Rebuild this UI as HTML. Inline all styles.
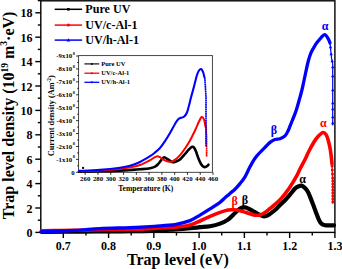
<!DOCTYPE html>
<html><head><meta charset="utf-8"><style>
html,body{margin:0;padding:0;background:#fff;}
svg{display:block;}
text{font-family:"Liberation Serif",serif;font-weight:bold;}
</style></head><body>
<svg width="342" height="269" viewBox="0 0 342 269">
<rect width="342" height="269" fill="#fff"/>
<!-- main frame -->
<rect x="40.8" y="0.8" width="294.10" height="231.60" fill="none" stroke="#000" stroke-width="1.4"/>
<g stroke="#000" stroke-width="1.4">
<line x1="63.30" y1="232.40" x2="63.30" y2="238.00"/>
<line x1="85.93" y1="232.40" x2="85.93" y2="235.60"/>
<line x1="108.57" y1="232.40" x2="108.57" y2="238.00"/>
<line x1="131.20" y1="232.40" x2="131.20" y2="235.60"/>
<line x1="153.83" y1="232.40" x2="153.83" y2="238.00"/>
<line x1="176.47" y1="232.40" x2="176.47" y2="235.60"/>
<line x1="199.10" y1="232.40" x2="199.10" y2="238.00"/>
<line x1="221.73" y1="232.40" x2="221.73" y2="235.60"/>
<line x1="244.37" y1="232.40" x2="244.37" y2="238.00"/>
<line x1="267.00" y1="232.40" x2="267.00" y2="235.60"/>
<line x1="289.64" y1="232.40" x2="289.64" y2="238.00"/>
<line x1="312.27" y1="232.40" x2="312.27" y2="235.60"/>
<line x1="334.90" y1="232.40" x2="334.90" y2="238.00"/>
<line x1="35.30" y1="232.40" x2="40.80" y2="232.40"/>
<line x1="37.80" y1="220.20" x2="40.80" y2="220.20"/>
<line x1="35.30" y1="208.00" x2="40.80" y2="208.00"/>
<line x1="37.80" y1="195.80" x2="40.80" y2="195.80"/>
<line x1="35.30" y1="183.60" x2="40.80" y2="183.60"/>
<line x1="37.80" y1="171.40" x2="40.80" y2="171.40"/>
<line x1="35.30" y1="159.20" x2="40.80" y2="159.20"/>
<line x1="37.80" y1="147.00" x2="40.80" y2="147.00"/>
<line x1="35.30" y1="134.80" x2="40.80" y2="134.80"/>
<line x1="37.80" y1="122.60" x2="40.80" y2="122.60"/>
<line x1="35.30" y1="110.40" x2="40.80" y2="110.40"/>
<line x1="37.80" y1="98.20" x2="40.80" y2="98.20"/>
<line x1="35.30" y1="86.00" x2="40.80" y2="86.00"/>
<line x1="37.80" y1="73.80" x2="40.80" y2="73.80"/>
<line x1="35.30" y1="61.60" x2="40.80" y2="61.60"/>
<line x1="37.80" y1="49.40" x2="40.80" y2="49.40"/>
<line x1="35.30" y1="37.20" x2="40.80" y2="37.20"/>
<line x1="37.80" y1="25.00" x2="40.80" y2="25.00"/>
<line x1="35.30" y1="12.80" x2="40.80" y2="12.80"/>
<line x1="37.80" y1="0.60" x2="40.80" y2="0.60"/>
</g>
<!-- main curves -->
<g fill="none" stroke-linejoin="round" stroke-linecap="round">
<path d="M41.50,231.80 C47.92,231.77 66.92,231.68 80.00,231.60 C93.08,231.52 108.33,231.40 120.00,231.30 C131.67,231.20 140.83,231.32 150.00,231.00 C159.17,230.68 168.33,229.87 175.00,229.40 C181.67,228.93 185.83,228.57 190.00,228.20 C194.17,227.83 196.67,227.53 200.00,227.20 C203.33,226.87 206.67,226.80 210.00,226.20 C213.33,225.60 217.00,224.70 220.00,223.60 C223.00,222.50 225.50,221.37 228.00,219.60 C230.50,217.83 233.00,214.83 235.00,213.00 C237.00,211.17 238.33,209.53 240.00,208.60 C241.67,207.67 243.33,207.27 245.00,207.40 C246.67,207.53 248.33,208.60 250.00,209.40 C251.67,210.20 253.33,211.27 255.00,212.20 C256.67,213.13 258.50,214.32 260.00,215.00 C261.50,215.68 262.67,216.27 264.00,216.30 C265.33,216.33 266.17,216.25 268.00,215.20 C269.83,214.15 273.00,211.70 275.00,210.00 C277.00,208.30 278.33,206.63 280.00,205.00 C281.67,203.37 283.33,201.93 285.00,200.20 C286.67,198.47 288.33,196.53 290.00,194.60 C291.67,192.67 293.67,189.93 295.00,188.60 C296.33,187.27 296.92,187.10 298.00,186.60 C299.08,186.10 300.33,185.37 301.50,185.60 C302.67,185.83 303.92,186.93 305.00,188.00 C306.08,189.07 307.17,190.57 308.00,192.00 C308.83,193.43 309.17,194.55 310.00,196.60 C310.83,198.65 312.00,201.67 313.00,204.30 C314.00,206.93 315.08,209.98 316.00,212.40 C316.92,214.82 317.67,217.00 318.50,218.80 C319.33,220.60 319.92,222.13 321.00,223.20 C322.08,224.27 322.83,224.85 325.00,225.20 C327.17,225.55 332.50,225.28 334.00,225.30" stroke="#000" stroke-width="4.2"/>
<path d="M41.50,230.80 C44.58,230.75 53.58,230.60 60.00,230.50 C66.42,230.40 73.33,230.32 80.00,230.20 C86.67,230.08 93.33,229.92 100.00,229.80 C106.67,229.68 113.33,229.60 120.00,229.50 C126.67,229.40 133.33,229.45 140.00,229.20 C146.67,228.95 154.17,228.32 160.00,228.00 C165.83,227.68 170.00,227.80 175.00,227.30 C180.00,226.80 185.83,226.05 190.00,225.00 C194.17,223.95 196.67,222.43 200.00,221.00 C203.33,219.57 206.67,217.83 210.00,216.40 C213.33,214.97 217.00,213.47 220.00,212.40 C223.00,211.33 225.67,210.43 228.00,210.00 C230.33,209.57 232.00,209.67 234.00,209.80 C236.00,209.93 238.17,210.40 240.00,210.80 C241.83,211.20 243.33,211.70 245.00,212.20 C246.67,212.70 248.33,213.30 250.00,213.80 C251.67,214.30 253.33,215.02 255.00,215.20 C256.67,215.38 258.33,215.35 260.00,214.90 C261.67,214.45 263.33,213.57 265.00,212.50 C266.67,211.43 268.33,209.85 270.00,208.50 C271.67,207.15 273.33,205.85 275.00,204.40 C276.67,202.95 278.33,201.55 280.00,199.80 C281.67,198.05 283.33,196.03 285.00,193.90 C286.67,191.77 288.17,189.78 290.00,187.00 C291.83,184.22 294.33,180.20 296.00,177.20 C297.67,174.20 298.50,171.95 300.00,169.00 C301.50,166.05 303.50,162.50 305.00,159.50 C306.50,156.50 307.50,153.92 309.00,151.00 C310.50,148.08 312.50,144.42 314.00,142.00 C315.50,139.58 316.50,138.08 318.00,136.50 C319.50,134.92 321.67,132.83 323.00,132.50 C324.33,132.17 325.17,133.33 326.00,134.50 C326.83,135.67 327.33,137.25 328.00,139.50 C328.67,141.75 329.47,145.25 330.00,148.00 C330.53,150.75 330.87,153.33 331.20,156.00 C331.53,158.67 331.87,162.67 332.00,164.00" stroke="#f00" stroke-width="3.6"/>
<path d="M332,164 L332.6,180 L332.8,203" stroke="#f00" stroke-width="1.3"/>
<g fill="#f00"><circle cx="332.10" cy="166" r="1.5"/><circle cx="332.30" cy="170" r="1.5"/><circle cx="332.50" cy="174" r="1.5"/><circle cx="332.70" cy="178" r="1.5"/><circle cx="332.80" cy="181" r="1.5"/><circle cx="332.80" cy="184" r="1.5"/><circle cx="332.80" cy="187" r="1.5"/><circle cx="332.80" cy="190" r="1.5"/><circle cx="332.80" cy="193" r="1.5"/><circle cx="332.80" cy="196" r="1.5"/><circle cx="332.80" cy="199" r="1.5"/><circle cx="332.80" cy="202" r="1.5"/></g>
<path d="M41.50,231.70 C44.58,231.58 53.58,231.27 60.00,231.00 C66.42,230.73 73.33,230.50 80.00,230.10 C86.67,229.70 91.67,229.02 100.00,228.60 C108.33,228.18 121.67,227.93 130.00,227.60 C138.33,227.27 144.17,226.98 150.00,226.60 C155.83,226.22 160.83,225.63 165.00,225.30 C169.17,224.97 170.83,225.38 175.00,224.60 C179.17,223.82 185.83,222.18 190.00,220.60 C194.17,219.02 196.67,217.05 200.00,215.10 C203.33,213.15 206.67,211.03 210.00,208.90 C213.33,206.77 217.50,204.15 220.00,202.30 C222.50,200.45 223.33,199.28 225.00,197.80 C226.67,196.32 228.33,194.83 230.00,193.40 C231.67,191.97 233.33,190.83 235.00,189.20 C236.67,187.57 238.33,185.67 240.00,183.60 C241.67,181.53 243.33,179.60 245.00,176.80 C246.67,174.00 248.33,169.90 250.00,166.80 C251.67,163.70 253.33,160.58 255.00,158.20 C256.67,155.82 258.33,154.32 260.00,152.50 C261.67,150.68 263.33,148.98 265.00,147.30 C266.67,145.62 268.33,143.70 270.00,142.40 C271.67,141.10 273.33,140.12 275.00,139.50 C276.67,138.88 278.33,139.30 280.00,138.70 C281.67,138.10 283.67,137.18 285.00,135.90 C286.33,134.62 287.17,132.62 288.00,131.00 C288.83,129.38 289.25,128.03 290.00,126.20 C290.75,124.37 291.50,122.53 292.50,120.00 C293.50,117.47 294.83,114.50 296.00,111.00 C297.17,107.50 298.53,102.42 299.50,99.00 C300.47,95.58 301.08,93.42 301.80,90.50 C302.52,87.58 303.13,84.58 303.80,81.50 C304.47,78.42 305.13,75.08 305.80,72.00 C306.47,68.92 307.13,65.67 307.80,63.00 C308.47,60.33 309.17,57.92 309.80,56.00 C310.43,54.08 310.82,53.12 311.60,51.50 C312.38,49.88 313.60,47.80 314.50,46.30 C315.40,44.80 316.00,43.83 317.00,42.50 C318.00,41.17 319.22,39.62 320.50,38.30 C321.78,36.98 323.45,34.58 324.70,34.60 C325.95,34.62 327.12,37.00 328.00,38.40 C328.88,39.80 329.67,42.23 330.00,43.00" stroke="#00f" stroke-width="3.3"/>
<path d="M330,43 L330.7,50 L331.5,58 L332.7,64 L332.7,125" stroke="#00f" stroke-width="1.2"/>
<g fill="#00f"><path d="M330.50,45.20 l1.7,3 l-3.4,0 z"/><path d="M331.20,52.20 l1.7,3 l-3.4,0 z"/><path d="M332.20,59.20 l1.7,3 l-3.4,0 z"/><path d="M332.70,65.20 l1.7,3 l-3.4,0 z"/><path d="M332.70,74.20 l1.7,3 l-3.4,0 z"/><path d="M332.70,88.20 l1.7,3 l-3.4,0 z"/><path d="M332.70,101.20 l1.7,3 l-3.4,0 z"/><path d="M332.70,107.20 l1.7,3 l-3.4,0 z"/><path d="M332.70,115.20 l1.7,3 l-3.4,0 z"/><path d="M332.70,121.20 l1.7,3 l-3.4,0 z"/></g>
</g>
<!-- greek labels -->
<g font-size="12">
<text x="325.2" y="29.8" fill="#00f" text-anchor="middle">α</text>
<text x="323.4" y="127" fill="#f00" text-anchor="middle">α</text>
<text x="302.6" y="183" fill="#000" text-anchor="middle">α</text>
<text x="273.9" y="133.8" fill="#00f" text-anchor="middle" font-weight="normal">β</text>
<text x="234.6" y="204.6" fill="#f00" text-anchor="middle" font-weight="normal">β</text>
<text x="244.9" y="203.6" fill="#000" text-anchor="middle" font-weight="normal">β</text>
</g>
<g font-size="12" fill="#000">
<text transform="translate(63.30,250) scale(1,1.12)" text-anchor="middle">0.7</text>
<text transform="translate(108.57,250) scale(1,1.12)" text-anchor="middle">0.8</text>
<text transform="translate(153.83,250) scale(1,1.12)" text-anchor="middle">0.9</text>
<text transform="translate(199.10,250) scale(1,1.12)" text-anchor="middle">1.0</text>
<text transform="translate(244.37,250) scale(1,1.12)" text-anchor="middle">1.1</text>
<text transform="translate(289.63,250) scale(1,1.12)" text-anchor="middle">1.2</text>
<text transform="translate(334.90,250) scale(1,1.12)" text-anchor="middle">1.3</text>
<text transform="translate(32.6,236.90) scale(1,1.12)" text-anchor="end">0</text>
<text transform="translate(32.6,212.50) scale(1,1.12)" text-anchor="end">2</text>
<text transform="translate(32.6,188.10) scale(1,1.12)" text-anchor="end">4</text>
<text transform="translate(32.6,163.70) scale(1,1.12)" text-anchor="end">6</text>
<text transform="translate(32.6,139.30) scale(1,1.12)" text-anchor="end">8</text>
<text transform="translate(32.6,114.90) scale(1,1.12)" text-anchor="end">10</text>
<text transform="translate(32.6,90.50) scale(1,1.12)" text-anchor="end">12</text>
<text transform="translate(32.6,66.10) scale(1,1.12)" text-anchor="end">14</text>
<text transform="translate(32.6,41.70) scale(1,1.12)" text-anchor="end">16</text>
<text transform="translate(32.6,17.30) scale(1,1.12)" text-anchor="end">18</text>
</g>
<text x="127" y="265.2" font-size="16" fill="#000">Trap level (eV)</text>
<text transform="translate(14.4,219.3) rotate(-90)" font-size="16" fill="#000">Trap level density (10<tspan dy="-6.5" font-size="9.5">19</tspan><tspan dy="6.5"> m</tspan><tspan dy="-7" font-size="9.5">3</tspan><tspan dy="7">·eV)</tspan></text>
<!-- legend -->
<g stroke-width="1.5">
<line x1="54.7" y1="9.3" x2="82.1" y2="9.3" stroke="#000"/>
<line x1="54.7" y1="25.1" x2="82.1" y2="25.1" stroke="#f00"/>
<line x1="54.7" y1="40.1" x2="82.1" y2="40.1" stroke="#00f"/>
</g>
<rect x="67.1" y="8.0" width="2.6" height="2.6" fill="#000"/>
<circle cx="68.4" cy="25.1" r="1.5" fill="#f00"/>
<path d="M68.4,38.3 L70.2,41.4 L66.6,41.4 Z" fill="#00f"/>
<g font-size="12.1" fill="#000">
<text transform="translate(85.3,13.3) scale(1,1.08)">Pure UV</text>
<text transform="translate(85.3,28.7) scale(1,1.08)">UV/c-Al-1</text>
<text transform="translate(85.3,44.1) scale(1,1.08)">UV/h-Al-1</text>
</g>
<!-- inset -->
<rect x="78.6" y="55.6" width="133.80" height="116.70" fill="#fff" stroke="#333" stroke-width="0.9"/>
<g fill="none" stroke-linejoin="round" stroke-linecap="round">
<path d="M79.00,171.60 C82.50,171.55 93.17,171.47 100.00,171.30 C106.83,171.13 115.00,170.82 120.00,170.60 C125.00,170.38 126.67,170.22 130.00,170.00 C133.33,169.78 136.67,169.58 140.00,169.30 C143.33,169.02 147.50,168.75 150.00,168.30 C152.50,167.85 153.67,167.28 155.00,166.60 C156.33,165.92 157.17,165.00 158.00,164.20 C158.83,163.40 159.33,162.63 160.00,161.80 C160.67,160.97 161.28,159.95 162.00,159.20 C162.72,158.45 163.30,157.25 164.30,157.30 C165.30,157.35 166.57,158.68 168.00,159.50 C169.43,160.32 171.57,161.87 172.90,162.20 C174.23,162.53 174.82,161.95 176.00,161.50 C177.18,161.05 178.50,160.75 180.00,159.50 C181.50,158.25 183.67,155.50 185.00,154.00 C186.33,152.50 187.17,151.43 188.00,150.50 C188.83,149.57 189.32,149.02 190.00,148.40 C190.68,147.78 191.43,146.93 192.10,146.80 C192.77,146.67 193.35,146.82 194.00,147.60 C194.65,148.38 195.33,149.88 196.00,151.50 C196.67,153.12 197.17,155.22 198.00,157.30 C198.83,159.38 200.00,162.38 201.00,164.00 C202.00,165.62 203.00,166.63 204.00,167.00 C205.00,167.37 206.25,166.58 207.00,166.20 C207.75,165.82 208.25,164.95 208.50,164.70" stroke="#000" stroke-width="2.6"/>
<path d="M79.00,171.20 C82.50,171.08 93.17,170.87 100.00,170.50 C106.83,170.13 115.00,169.52 120.00,169.00 C125.00,168.48 126.67,168.07 130.00,167.40 C133.33,166.73 136.67,166.20 140.00,165.00 C143.33,163.80 147.67,161.43 150.00,160.20 C152.33,158.97 152.78,158.25 154.00,157.60 C155.22,156.95 156.30,156.37 157.30,156.30 C158.30,156.23 159.05,156.70 160.00,157.20 C160.95,157.70 161.83,158.63 163.00,159.30 C164.17,159.97 165.57,160.78 167.00,161.20 C168.43,161.62 170.10,162.17 171.60,161.80 C173.10,161.43 174.60,160.12 176.00,159.00 C177.40,157.88 178.50,156.85 180.00,155.10 C181.50,153.35 183.33,150.93 185.00,148.50 C186.67,146.07 188.33,143.50 190.00,140.50 C191.67,137.50 193.50,133.67 195.00,130.50 C196.50,127.33 197.90,123.75 199.00,121.50 C200.10,119.25 200.77,117.33 201.60,117.00 C202.43,116.67 203.35,117.88 204.00,119.50 C204.65,121.12 205.25,125.50 205.50,126.70" stroke="#f00" stroke-width="2.0"/>
<g fill="#f00"><circle cx="206.00" cy="127.0" r="0.95"/><circle cx="206.11" cy="128.8" r="0.95"/><circle cx="206.22" cy="130.6" r="0.95"/><circle cx="206.32" cy="132.4" r="0.95"/><circle cx="206.43" cy="134.2" r="0.95"/><circle cx="206.54" cy="136.0" r="0.95"/><circle cx="206.60" cy="137.8" r="0.95"/><circle cx="206.60" cy="139.6" r="0.95"/><circle cx="206.60" cy="141.4" r="0.95"/><circle cx="206.60" cy="143.2" r="0.95"/><circle cx="206.60" cy="145.0" r="0.95"/><circle cx="206.60" cy="146.8" r="0.95"/><circle cx="206.60" cy="148.6" r="0.95"/><circle cx="206.60" cy="150.4" r="0.95"/><circle cx="206.60" cy="152.2" r="0.95"/><circle cx="206.60" cy="154.0" r="0.95"/><circle cx="206.60" cy="155.8" r="0.95"/></g>
<path d="M79.00,170.90 C82.50,170.73 93.17,170.42 100.00,169.90 C106.83,169.38 115.00,168.48 120.00,167.80 C125.00,167.12 126.67,166.77 130.00,165.80 C133.33,164.83 136.67,163.60 140.00,162.00 C143.33,160.40 147.50,157.78 150.00,156.20 C152.50,154.62 153.33,153.87 155.00,152.50 C156.67,151.13 158.33,149.88 160.00,148.00 C161.67,146.12 163.33,143.70 165.00,141.20 C166.67,138.70 168.33,135.87 170.00,133.00 C171.67,130.13 173.67,126.25 175.00,124.00 C176.33,121.75 177.00,120.53 178.00,119.50 C179.00,118.47 180.00,118.25 181.00,117.80 C182.00,117.35 183.00,117.68 184.00,116.80 C185.00,115.92 186.17,114.38 187.00,112.50 C187.83,110.62 188.33,108.00 189.00,105.50 C189.67,103.00 190.17,100.67 191.00,97.50 C191.83,94.33 193.00,90.25 194.00,86.50 C195.00,82.75 196.17,77.67 197.00,75.00 C197.83,72.33 198.33,71.48 199.00,70.50 C199.67,69.52 200.33,68.87 201.00,69.10 C201.67,69.33 202.42,70.48 203.00,71.90 C203.58,73.32 204.25,76.65 204.50,77.60" stroke="#00f" stroke-width="2.1"/>
<g fill="#00f"><circle cx="204.90" cy="79.0" r="0.95"/><circle cx="205.01" cy="80.8" r="0.95"/><circle cx="205.12" cy="82.6" r="0.95"/><circle cx="205.23" cy="84.4" r="0.95"/><circle cx="205.34" cy="86.2" r="0.95"/><circle cx="205.45" cy="88.0" r="0.95"/><circle cx="205.56" cy="89.8" r="0.95"/><circle cx="205.67" cy="91.6" r="0.95"/><circle cx="205.78" cy="93.4" r="0.95"/><circle cx="205.89" cy="95.2" r="0.95"/><circle cx="206.00" cy="97.0" r="0.95"/><circle cx="206.00" cy="98.8" r="0.95"/><circle cx="206.00" cy="100.6" r="0.95"/><circle cx="206.00" cy="102.4" r="0.95"/><circle cx="206.00" cy="104.2" r="0.95"/><circle cx="206.00" cy="106.0" r="0.95"/><circle cx="206.00" cy="107.8" r="0.95"/><circle cx="206.00" cy="109.6" r="0.95"/><circle cx="206.00" cy="111.4" r="0.95"/><circle cx="206.00" cy="113.2" r="0.95"/><circle cx="206.00" cy="115.0" r="0.95"/><circle cx="206.00" cy="116.8" r="0.95"/><circle cx="206.00" cy="118.6" r="0.95"/><circle cx="206.00" cy="120.4" r="0.95"/><circle cx="206.00" cy="122.2" r="0.95"/><circle cx="206.00" cy="124.0" r="0.95"/><circle cx="206.00" cy="125.8" r="0.95"/><circle cx="206.00" cy="127.6" r="0.95"/><circle cx="206.00" cy="129.4" r="0.95"/><circle cx="206.00" cy="131.2" r="0.95"/><circle cx="206.00" cy="133.0" r="0.95"/><circle cx="206.00" cy="134.8" r="0.95"/><circle cx="206.00" cy="136.6" r="0.95"/><circle cx="206.00" cy="138.4" r="0.95"/><circle cx="206.00" cy="140.2" r="0.95"/><circle cx="206.00" cy="142.0" r="0.95"/><circle cx="206.00" cy="143.8" r="0.95"/><circle cx="206.00" cy="145.6" r="0.95"/></g>
</g>
<g stroke="#000" stroke-width="0.8">
<line x1="85.20" y1="172.30" x2="85.20" y2="174.90"/>
<line x1="97.98" y1="172.30" x2="97.98" y2="174.90"/>
<line x1="110.76" y1="172.30" x2="110.76" y2="174.90"/>
<line x1="123.54" y1="172.30" x2="123.54" y2="174.90"/>
<line x1="136.32" y1="172.30" x2="136.32" y2="174.90"/>
<line x1="149.10" y1="172.30" x2="149.10" y2="174.90"/>
<line x1="161.88" y1="172.30" x2="161.88" y2="174.90"/>
<line x1="174.66" y1="172.30" x2="174.66" y2="174.90"/>
<line x1="187.44" y1="172.30" x2="187.44" y2="174.90"/>
<line x1="200.22" y1="172.30" x2="200.22" y2="174.90"/>
<line x1="213.00" y1="172.30" x2="213.00" y2="174.90"/>
<line x1="76.00" y1="172.30" x2="78.60" y2="172.30"/>
<line x1="77.10" y1="165.84" x2="78.60" y2="165.84"/>
<line x1="76.00" y1="159.38" x2="78.60" y2="159.38"/>
<line x1="77.10" y1="152.92" x2="78.60" y2="152.92"/>
<line x1="76.00" y1="146.46" x2="78.60" y2="146.46"/>
<line x1="77.10" y1="140.00" x2="78.60" y2="140.00"/>
<line x1="76.00" y1="133.54" x2="78.60" y2="133.54"/>
<line x1="77.10" y1="127.08" x2="78.60" y2="127.08"/>
<line x1="76.00" y1="120.62" x2="78.60" y2="120.62"/>
<line x1="77.10" y1="114.16" x2="78.60" y2="114.16"/>
<line x1="76.00" y1="107.70" x2="78.60" y2="107.70"/>
<line x1="77.10" y1="101.24" x2="78.60" y2="101.24"/>
<line x1="76.00" y1="94.78" x2="78.60" y2="94.78"/>
<line x1="77.10" y1="88.32" x2="78.60" y2="88.32"/>
<line x1="76.00" y1="81.86" x2="78.60" y2="81.86"/>
<line x1="77.10" y1="75.40" x2="78.60" y2="75.40"/>
<line x1="76.00" y1="68.94" x2="78.60" y2="68.94"/>
<line x1="77.10" y1="62.48" x2="78.60" y2="62.48"/>
<line x1="76.00" y1="56.02" x2="78.60" y2="56.02"/>
</g>
<g font-size="6.8" fill="#000">
<text x="85.20" y="181.4" text-anchor="middle">260</text>
<text x="97.98" y="181.4" text-anchor="middle">280</text>
<text x="110.76" y="181.4" text-anchor="middle">300</text>
<text x="123.54" y="181.4" text-anchor="middle">320</text>
<text x="136.32" y="181.4" text-anchor="middle">340</text>
<text x="149.10" y="181.4" text-anchor="middle">360</text>
<text x="161.88" y="181.4" text-anchor="middle">380</text>
<text x="174.66" y="181.4" text-anchor="middle">400</text>
<text x="187.44" y="181.4" text-anchor="middle">420</text>
<text x="200.22" y="181.4" text-anchor="middle">440</text>
<text x="213.00" y="181.4" text-anchor="middle">460</text>
<text x="74.6" y="174.50" text-anchor="end">0</text>
<text x="74.9" y="161.58" text-anchor="end">-1x10<tspan dx="0.5" dy="-3.4" font-size="4.4">8</tspan></text>
<text x="74.9" y="148.66" text-anchor="end">-2x10<tspan dx="0.5" dy="-3.4" font-size="4.4">8</tspan></text>
<text x="74.9" y="135.74" text-anchor="end">-3x10<tspan dx="0.5" dy="-3.4" font-size="4.4">8</tspan></text>
<text x="74.9" y="122.82" text-anchor="end">-4x10<tspan dx="0.5" dy="-3.4" font-size="4.4">8</tspan></text>
<text x="74.9" y="109.90" text-anchor="end">-5x10<tspan dx="0.5" dy="-3.4" font-size="4.4">8</tspan></text>
<text x="74.9" y="96.98" text-anchor="end">-6x10<tspan dx="0.5" dy="-3.4" font-size="4.4">8</tspan></text>
<text x="74.9" y="84.06" text-anchor="end">-7x10<tspan dx="0.5" dy="-3.4" font-size="4.4">8</tspan></text>
<text x="74.9" y="71.14" text-anchor="end">-8x10<tspan dx="0.5" dy="-3.4" font-size="4.4">8</tspan></text>
<text x="74.9" y="58.22" text-anchor="end">-9x10<tspan dx="0.5" dy="-3.4" font-size="4.4">8</tspan></text>
</g>
<text x="118.2" y="191.4" font-size="7.6" fill="#000">Temperature (K)</text>
<text transform="translate(54.4,156.3) rotate(-90)" font-size="9.2" fill="#000" textLength="81" lengthAdjust="spacingAndGlyphs">Current density (Am<tspan dy="-3.2" font-size="5.8">-2</tspan><tspan dy="3.2">)</tspan></text>
<rect x="82.1" y="166.9" width="2" height="2" fill="#000"/>
<!-- inset legend -->
<g stroke-width="1.3">
<line x1="84.4" y1="63.9" x2="99.3" y2="63.9" stroke="#222"/>
<line x1="84.4" y1="73.2" x2="99.3" y2="73.2" stroke="#f00"/>
<line x1="84.4" y1="82.3" x2="99.3" y2="82.3" stroke="#00f"/>
</g>
<circle cx="91.8" cy="63.9" r="1" fill="#000"/>
<circle cx="91.8" cy="73.2" r="1" fill="#f00"/>
<circle cx="91.8" cy="82.3" r="1" fill="#00f"/>
<g font-size="6.5" fill="#000">
<text x="101.2" y="65.8">Pure UV</text>
<text x="101.2" y="75.1">UV/c-Al-1</text>
<text x="101.2" y="84.2">UV/h-Al-1</text>
</g>
</svg>
</body></html>
